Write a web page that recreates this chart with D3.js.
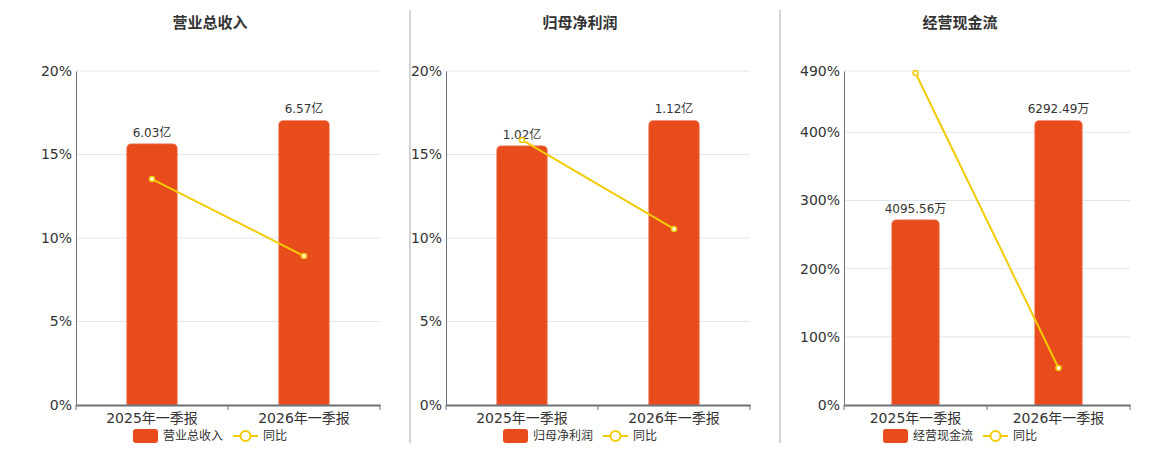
<!DOCTYPE html>
<html><head><meta charset="utf-8">
<script src="https://cdn.jsdelivr.net/npm/d3@7/dist/d3.min.js"></script>
<style>
html,body{margin:0;padding:0;background:#fff;}
text{font-family:"DejaVu Sans","Noto Sans CJK SC",sans-serif;}
</style></head>
<body><svg id="c" width="1160" height="450"></svg>
<script>
const categories = ["2025年一季报", "2026年一季报"];
const titles = ["营业总收入", "归母净利润", "经营现金流"];
const barValues1 = [6.03, 6.57];
const barValues2 = [1.02, 1.12];
const barValues3 = [4095.56, 6292.49];
const barUnits = ["亿", "亿", "万"];
const yoy1 = [13.53, 8.92];
const yoy2 = [15.87, 10.54];
const yoy3 = [487, 54.3];
const yTicks1 = [0, 5, 10, 15, 20];
const yTicks2 = [0, 5, 10, 15, 20];
const yTicks3 = [0, 100, 200, 300, 400, 490];
const legendLine = "同比";

const panels = [
  {title: titles[0], bars: barValues1, unit: barUnits[0], yoy: yoy1, ticks: yTicks1, x0: 76, x1: 380, center: 210},
  {title: titles[1], bars: barValues2, unit: barUnits[1], yoy: yoy2, ticks: yTicks2, x0: 446, x1: 750, center: 580},
  {title: titles[2], bars: barValues3, unit: barUnits[2], yoy: yoy3, ticks: yTicks3, x0: 844, x1: 1130, center: 960}
];
const svg = d3.select("#c");
const plotTop = 71, plotBottom = 405;
const barColor = "#e84c1d", lineColor = "#f2cb05";

// dividers
[410, 780].forEach(x => svg.append("line").attr("x1", x).attr("x2", x).attr("y1", 10).attr("y2", 443)
  .attr("stroke", "#aaa").attr("stroke-width", 1));

panels.forEach(p => {
  const g = svg.append("g");
  const x = d3.scaleBand().domain(categories).range([p.x0, p.x1]);
  const yMax = p.ticks[p.ticks.length - 1];
  const y = d3.scaleLinear().domain([0, yMax]).range([plotBottom, plotTop]);
  const yb = d3.scaleLinear().domain([0, d3.max(p.bars) / 0.852]).range([plotBottom, plotTop]);

  g.append("text").attr("x", p.center).attr("y", 28).attr("text-anchor", "middle")
    .attr("font-size", 15).attr("font-weight", "bold").attr("fill", "#333").text(p.title);

  // grid
  g.selectAll(".grid").data(p.ticks.filter(t => t > 0)).join("line")
    .attr("x1", p.x0).attr("x2", p.x1).attr("y1", d => y(d)).attr("y2", d => y(d))
    .attr("stroke", "#e0e6f1").attr("stroke-width", 1);

  // y axis
  const ya = g.append("g").attr("transform", `translate(${p.x0},0)`)
    .call(d3.axisLeft(y).tickValues(p.ticks).tickSize(0).tickPadding(4).tickFormat(d => d + "%"));
  ya.select(".domain").attr("stroke", "#6e7079");
  ya.selectAll("text").attr("font-size", 14).attr("fill", "#333").attr("font-family", "DejaVu Sans");

  // bars
  const bw = x.bandwidth() / 3;
  g.selectAll(".bar").data(p.bars).join("path")
    .attr("d", (d, i) => {
      const cx = x(categories[i]) + x.bandwidth() / 2;
      const l = cx - bw / 2, r = cx + bw / 2, t = yb(d), b = plotBottom, rr = 5;
      return `M${l},${b}V${t + rr}Q${l},${t} ${l + rr},${t}H${r - rr}Q${r},${t} ${r},${t + rr}V${b}Z`;
    })
    .attr("fill", barColor).attr("stroke", "#f08a70").attr("stroke-width", 0.6);

  g.selectAll(".lbl").data(p.bars).join("text")
    .attr("x", (d, i) => x(categories[i]) + x.bandwidth() / 2)
    .attr("y", d => yb(d) - 7).attr("text-anchor", "middle")
    .attr("font-size", 12).attr("fill", "#333").text(d => d.toFixed(2) + p.unit);

  // x axis
  const xa = g.append("g").attr("transform", `translate(0,${plotBottom})`)
    .call(d3.axisBottom(x).tickSize(0).tickPadding(8));
  xa.select(".domain").attr("stroke", "#6e7079").attr("stroke-width", 2);
  xa.selectAll("text").attr("font-size", 14).attr("fill", "#333");
  const bounds = [p.x0, p.x0 + x.bandwidth(), p.x1];
  g.selectAll(".xt").data(bounds).join("line")
    .attr("x1", d => d).attr("x2", d => d).attr("y1", plotBottom).attr("y2", plotBottom + 5)
    .attr("stroke", "#6e7079");

  // yoy line
  const pts = p.yoy.map((v, i) => [x(categories[i]) + x.bandwidth() / 2, y(v)]);
  g.append("path").attr("d", d3.line()(pts)).attr("fill", "none")
    .attr("stroke", lineColor).attr("stroke-width", 2);
  g.selectAll(".pt").data(pts).join("circle")
    .attr("cx", d => d[0]).attr("cy", d => d[1]).attr("r", 2.5)
    .attr("fill", "#fff").attr("stroke", lineColor).attr("stroke-width", 1.5);

  // legend
  const lg = g.append("g");
  const tw = p.title.length * 12;
  const total = 25 + 5 + tw + 10 + 25 + 5 + 24;
  let lx = p.center - total / 2;
  const ly = 436;
  lg.append("rect").attr("x", lx).attr("y", ly - 7).attr("width", 25).attr("height", 14).attr("rx", 3)
    .attr("fill", barColor);
  lg.append("text").attr("x", lx + 30).attr("y", ly).attr("dy", "0.35em").attr("font-size", 12)
    .attr("fill", "#333").text(p.title);
  lx += 30 + tw + 10;
  lg.append("line").attr("x1", lx).attr("x2", lx + 25).attr("y1", ly).attr("y2", ly)
    .attr("stroke", lineColor).attr("stroke-width", 2);
  lg.append("circle").attr("cx", lx + 12.5).attr("cy", ly).attr("r", 5)
    .attr("fill", "#fff").attr("stroke", lineColor).attr("stroke-width", 2);
  lg.append("text").attr("x", lx + 30).attr("y", ly).attr("dy", "0.35em").attr("font-size", 12)
    .attr("fill", "#333").text(legendLine);
});
</script></body></html>
